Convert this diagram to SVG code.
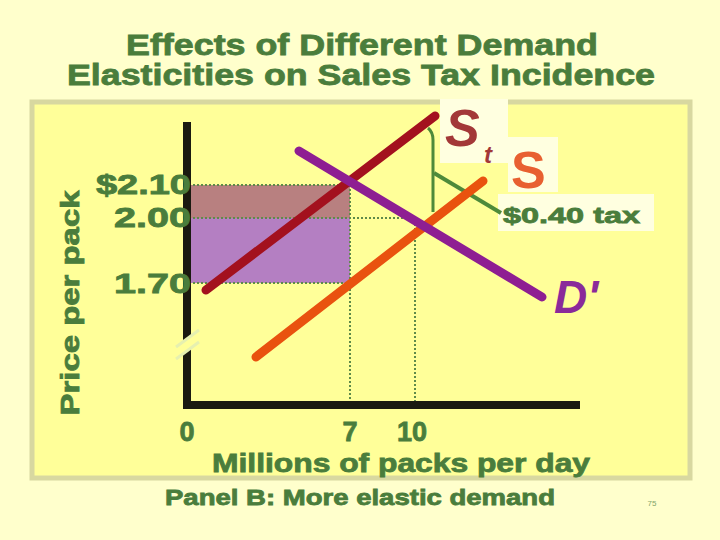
<svg xmlns="http://www.w3.org/2000/svg" width="720" height="540" viewBox="0 0 720 540">
<defs>
<style>
.t{font-family:"Liberation Sans",Arial,sans-serif;font-weight:bold;fill:#4A7D3C;stroke:#4A7D3C;stroke-width:0.8}
.dot{stroke:#5E8A4A;stroke-width:2;stroke-dasharray:2 2;fill:none}
.curve{stroke-width:9;stroke-linecap:round;fill:none}
.lbl{font-family:"Liberation Sans",Arial,sans-serif;font-weight:bold}
</style>
</defs>
<rect x="0" y="0" width="720" height="540" fill="#FFFFCC"/>
<rect x="32" y="102" width="658" height="376" fill="#FFFF99" stroke="#D8D8A0" stroke-width="5"/>
<g id="title">
<text class="t" x="362" y="55" font-size="30" text-anchor="middle" textLength="472" lengthAdjust="spacingAndGlyphs">Effects of Different Demand</text>
<text class="t" x="361" y="85" font-size="30" text-anchor="middle" textLength="588" lengthAdjust="spacingAndGlyphs">Elasticities on Sales Tax Incidence</text>
</g>
<g id="areas">
<rect x="189" y="185" width="161" height="33" fill="#B88080"/>
<rect x="189" y="218" width="161" height="65" fill="#B47FC2"/>
</g>
<g id="guides">
<line class="dot" x1="189" y1="185" x2="350" y2="185"/>
<line class="dot" x1="189" y1="218" x2="415" y2="218"/>
<line class="dot" x1="189" y1="283" x2="350" y2="283"/>
<line class="dot" x1="350" y1="185" x2="350" y2="403"/>
<line class="dot" x1="415" y1="220" x2="415" y2="403"/>
</g>
<g id="axes">
<line x1="187" y1="122" x2="187" y2="408" stroke="#1A1A10" stroke-width="8"/>
<line x1="183" y1="405" x2="580" y2="405" stroke="#1A1A10" stroke-width="8"/>
<polygon points="178,346 198,330 198,342 178,358" fill="#FFFF99"/>
<line x1="176" y1="347" x2="199" y2="330" stroke="#E6F0B0" stroke-width="3"/>
<line x1="176" y1="359" x2="199" y2="342" stroke="#E6F0B0" stroke-width="3"/>
</g>
<g id="label-patches">
<rect x="440" y="99" width="68" height="64" fill="#FFFFE0"/>
<rect x="508" y="137" width="50" height="55" fill="#FFFFE0"/>
<rect x="498" y="194" width="156" height="37" fill="#FFFFE0"/>
</g>
<g id="connectors">
<path d="M428,128 Q433,132 433,140 L433,212" stroke="#4E8A3A" stroke-width="3" fill="none"/>
<line x1="434" y1="173" x2="501" y2="213" stroke="#4E8A3A" stroke-width="4"/>
</g>
<g id="curve-St"><line class="curve" x1="206" y1="290" x2="435" y2="116" stroke="#A3111E"/></g>
<g id="curve-S"><line class="curve" x1="256" y1="357" x2="483" y2="181" stroke="#E9520F"/></g>
<g id="curve-D"><line class="curve" x1="299" y1="151" x2="542" y2="297" stroke="#8E1E92"/></g>
<g id="labels">
<text class="lbl" x="445" y="146" style="font-size:52px;font-style:italic" fill="#A33838">S</text>
<text class="lbl" x="484" y="163" style="font-size:24px;font-style:italic" fill="#A33838">t</text>
<text class="lbl" x="511" y="188" style="font-size:52px" fill="#E86030">S</text>
<text class="lbl" x="554" y="313" style="font-size:46px;font-style:italic" fill="#8A2A9A">D'</text>
<text class="t" x="503" y="223" font-size="22" textLength="137" lengthAdjust="spacingAndGlyphs">$0.40 tax</text>
</g>
<g id="ticks">
<text class="t" x="191" y="194" font-size="27" text-anchor="end" textLength="95" lengthAdjust="spacingAndGlyphs">$2.10</text>
<text class="t" x="191" y="227" font-size="27" text-anchor="end" textLength="77" lengthAdjust="spacingAndGlyphs">2.00</text>
<text class="t" x="191" y="293" font-size="27" text-anchor="end" textLength="77" lengthAdjust="spacingAndGlyphs">1.70</text>
<text class="t" x="187" y="441" font-size="27" text-anchor="middle">0</text>
<text class="t" x="350" y="441" font-size="27" text-anchor="middle">7</text>
<text class="t" x="412" y="441" font-size="27" text-anchor="middle">10</text>
</g>
<g id="axis-titles">
<text class="t" x="401" y="472" font-size="26" text-anchor="middle" textLength="378" lengthAdjust="spacingAndGlyphs">Millions of packs per day</text>
<text class="t" x="0" y="0" font-size="25" text-anchor="middle" textLength="225" lengthAdjust="spacingAndGlyphs" transform="translate(79,303) rotate(-90)">Price per pack</text>
</g>
<g id="caption">
<text class="t" x="360" y="505" font-size="22" text-anchor="middle" textLength="390" lengthAdjust="spacingAndGlyphs">Panel B: More elastic demand</text>
<text x="652" y="506" font-size="8" text-anchor="middle" fill="#4A7D3C" opacity="0.7" font-family="Liberation Sans, Arial, sans-serif">75</text>
</g>
</svg>
